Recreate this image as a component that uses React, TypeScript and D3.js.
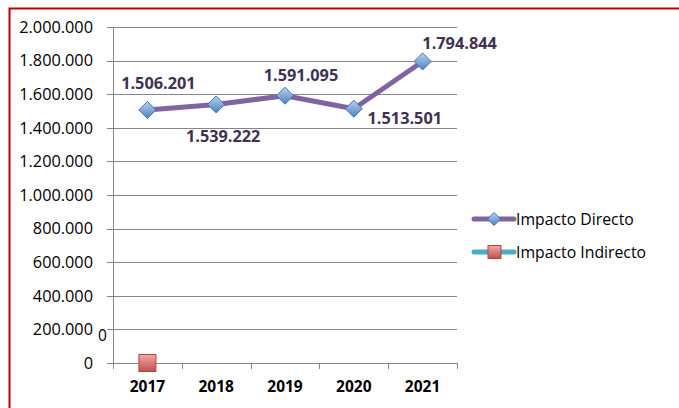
// @ts-nocheck
import React, { useEffect, useRef } from "react";
import * as d3 from "d3";

const years = ["2017", "2018", "2019", "2020", "2021"];
const directo = [1506201, 1539222, 1591095, 1513501, 1794844];
const indirecto = [0];
const yTicks = [0, 200000, 400000, 600000, 800000, 1000000, 1200000, 1400000, 1600000, 1800000, 2000000];
const seriesNames = ["Impacto Directo", "Impacto Indirecto"];
// label offsets relative to each point (layout only)
const labelOffsets = [
  [11, -27],
  [7, 32],
  [16, -20],
  [51, 10],
  [37, -18],
];

const fmt = (v) => d3.format(",")(v).replace(/,/g, ".");

const App = () => {
  const svgRef = useRef();

  useEffect(() => {
    const width = 679;
    const height = 408;
    const margin = { top: 27, left: 113, right: 222, bottom: 45 };
    const svg = d3.select(svgRef.current);
    svg.selectAll("*").remove();
    svg.attr("width", width).attr("height", height);

    const font = "'Open Sans', sans-serif";

    const defs = svg.append("defs");
    const blue = defs.append("linearGradient").attr("id", "blueG").attr("x1", 0).attr("y1", 0).attr("x2", 0).attr("y2", 1);
    blue.append("stop").attr("offset", "0%").attr("stop-color", "#b9d3f3");
    blue.append("stop").attr("offset", "100%").attr("stop-color", "#4f81bd");
    const red = defs.append("linearGradient").attr("id", "redG").attr("x1", 0).attr("y1", 0).attr("x2", 0).attr("y2", 1);
    red.append("stop").attr("offset", "0%").attr("stop-color", "#f4a9a7");
    red.append("stop").attr("offset", "100%").attr("stop-color", "#c0504d");

    svg.append("rect").attr("width", width).attr("height", height).attr("fill", "#fff");

    // red frame
    svg
      .append("path")
      .attr("d", `M9.5,${height + 2} L9.5,8.5 L${width + 2},8.5`)
      .attr("fill", "none")
      .attr("stroke", "#c00000")
      .attr("stroke-width", 2);

    const x = d3.scaleBand().domain(years).range([margin.left, width - margin.right]);
    const y = d3.scaleLinear().domain([0, 2000000]).range([height - margin.bottom, margin.top]);

    // gridlines + y ticks
    const g = svg.append("g");
    yTicks.forEach((t) => {
      g.append("line")
        .attr("x1", margin.left - 6)
        .attr("x2", width - margin.right)
        .attr("y1", Math.round(y(t)) + 0.5)
        .attr("y2", Math.round(y(t)) + 0.5)
        .attr("stroke", "#868686")
        .attr("stroke-width", 1);
      g.append("text")
        .attr("x", margin.left - 20)
        .attr("y", y(t))
        .attr("dy", "0.35em")
        .attr("text-anchor", "end")
        .style("font-family", font)
        .style("font-size", "16.3px")
        .style("fill", "#000")
        .text(fmt(t));
    });

    // y axis line
    g.append("line")
      .attr("x1", margin.left + 0.5)
      .attr("x2", margin.left + 0.5)
      .attr("y1", margin.top)
      .attr("y2", height - margin.bottom + 6)
      .attr("stroke", "#868686");

    // x ticks
    years.forEach((yr, i) => {
      const xx = Math.round(x(yr) + x.bandwidth()) + 0.5;
      g.append("line")
        .attr("x1", xx)
        .attr("x2", xx)
        .attr("y1", y(0))
        .attr("y2", y(0) + 6)
        .attr("stroke", "#868686");
      g.append("text")
        .attr("x", x(yr) + x.bandwidth() / 2)
        .attr("y", y(0) + 29)
        .attr("text-anchor", "middle")
        .style("font-family", font)
        .style("font-size", "15.5px")
        .style("font-weight", "bold")
        .style("fill", "#000")
        .text(yr);
    });

    const cx = (i) => x(years[i]) + x.bandwidth() / 2;

    // Impacto Directo line
    const line = d3
      .line()
      .x((d, i) => cx(i))
      .y((d) => y(d));
    svg
      .append("path")
      .datum(directo)
      .attr("d", line)
      .attr("fill", "none")
      .attr("stroke", "#8064a2")
      .attr("stroke-width", 5)
      .attr("stroke-linejoin", "round");

    const diamond = (px, py, r) => `M${px},${py - r} L${px + r},${py} L${px},${py + r} L${px - r},${py} Z`;

    svg
      .selectAll(".dm")
      .data(directo)
      .enter()
      .append("path")
      .attr("d", (d, i) => diamond(cx(i), y(d), 8.5))
      .attr("fill", "url(#blueG)")
      .attr("stroke", "#3f73b0")
      .attr("stroke-width", 1);

    svg
      .selectAll(".dl")
      .data(directo)
      .enter()
      .append("text")
      .attr("x", (d, i) => cx(i) + labelOffsets[i][0])
      .attr("y", (d, i) => y(d) + labelOffsets[i][1])
      .attr("dy", "0.35em")
      .attr("text-anchor", "middle")
      .style("font-family", font)
      .style("font-size", "16.3px")
      .style("font-weight", "bold")
      .style("fill", "#3f3151")
      .text((d) => fmt(d));

    // Impacto Indirecto
    svg
      .selectAll(".sq")
      .data(indirecto)
      .enter()
      .append("rect")
      .attr("x", (d, i) => cx(i) - 8.5)
      .attr("y", (d) => y(d) - 8.5)
      .attr("width", 17)
      .attr("height", 17)
      .attr("fill", "url(#redG)")
      .attr("stroke", "#b04542");

    svg
      .selectAll(".il")
      .data(indirecto)
      .enter()
      .append("text")
      .attr("x", (d, i) => cx(i) - 45)
      .attr("y", (d) => y(d) - 27)
      .attr("dy", "0.35em")
      .attr("text-anchor", "middle")
      .style("font-family", font)
      .style("font-size", "15.5px")
      .style("fill", "#000")
      .text((d) => fmt(d));

    // legend
    const legend = svg.append("g").attr("transform", "translate(474,219)");
    seriesNames.forEach((name, i) => {
      const ly = i * 33;
      legend
        .append("line")
        .attr("x1", 0)
        .attr("x2", 40)
        .attr("y1", ly)
        .attr("y2", ly)
        .attr("stroke", i === 0 ? "#8064a2" : "#4bacc6")
        .attr("stroke-width", 5)
        .attr("stroke-linecap", "round");
      if (i === 0) {
        legend.append("path").attr("d", diamond(20, ly, 6.5)).attr("fill", "url(#blueG)").attr("stroke", "#3f73b0");
      } else {
        legend
          .append("rect")
          .attr("x", 14)
          .attr("y", ly - 6.5)
          .attr("width", 13)
          .attr("height", 13)
          .attr("fill", "url(#redG)")
          .attr("stroke", "#b04542");
      }
      legend
        .append("text")
        .attr("x", 42)
        .attr("y", ly)
        .attr("dy", "0.35em")
        .style("font-family", font)
        .style("font-size", "15.8px")
        .style("fill", "#000")
        .text(name);
    });
  }, []);

  return (
    <svg
      ref={svgRef}
      style={{ position: "absolute", left: 0, top: 0, display: "block" }}
    ></svg>
  );
};

export default App;
